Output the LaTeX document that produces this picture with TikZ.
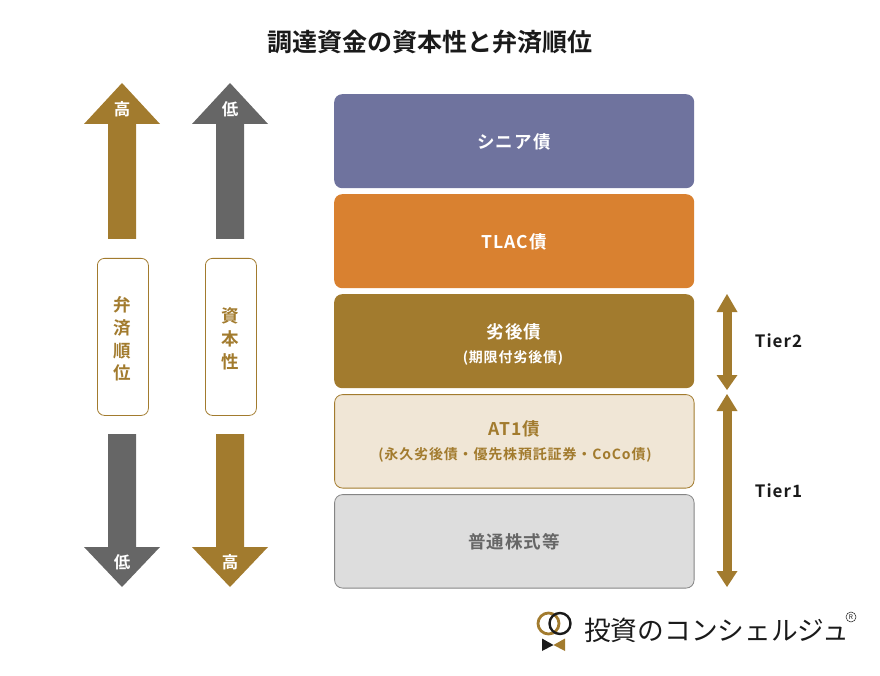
\documentclass[tikz,border=0pt]{standalone}
\usepackage{fontspec}
\setmainfont{Noto Sans CJK JP}[BoldFont={Noto Sans CJK JP Bold}]
\newfontfamily\spaced{Noto Sans CJK JP Bold}[LetterSpace=6]
\definecolor{gold}{HTML}{A27B2E}
\definecolor{slate}{HTML}{666666}
\definecolor{purp}{HTML}{6F739E}
\definecolor{oran}{HTML}{D98130}
\definecolor{cream}{HTML}{F0E6D6}
\definecolor{lgrey}{HTML}{DDDDDD}
\definecolor{ink}{HTML}{1A1A1A}
\tikzset{
  x=1pt,y=-1pt,
  tier/.style={minimum width=360pt,minimum height=94pt,rounded corners=8pt,inner sep=0pt,anchor=north west},
  tiermain/.style={inner sep=0pt,font=\fontsize{17.5}{22}\spaced},
  tiersub/.style={inner sep=0pt,font=\fontsize{14}{17}\spaced},
  side/.style={draw=gold,fill=white,line width=0.8pt,minimum width=51pt,minimum height=157pt,rounded corners=7pt,inner sep=0pt,anchor=north west},
  sidetext/.style={inner sep=0pt,align=center,text=gold,font=\fontsize{17.5}{22.7}\selectfont\bfseries},
  lab/.style={text=white,inner sep=0pt,font=\fontsize{16.5}{16}\selectfont\bfseries},
  tierlab/.style={text=ink,inner sep=0pt,font=\fontsize{17}{17}\spaced},
}
\newcommand{\bigup}[2]{\fill[#2] (#1,83) -- (#1+38,124) -- (#1+14,124) -- (#1+14,239) -- (#1-14,239) -- (#1-14,124) -- (#1-38,124) -- cycle;}
\newcommand{\bigdown}[2]{\fill[#2] (#1,587) -- (#1+38,547) -- (#1+14,547) -- (#1+14,434) -- (#1-14,434) -- (#1-14,547) -- (#1-38,547) -- cycle;}
\newcommand{\dbltip}[3]{\fill[gold] (#1,#2) -- (#1+10.5,#3) -- (#1-10.5,#3) -- cycle;}
\begin{document}
\begin{tikzpicture}
\useasboundingbox (0,0) rectangle (880,676);
\node[inner sep=0pt,text=ink,font=\fontsize{25}{28}\selectfont\bfseries] (title) at (430,42) {調達資金の資本性と弁済順位};

\bigup{122}{gold}
\bigup{230}{slate}
\bigdown{122}{slate}
\bigdown{230}{gold}
\node[lab] (a) at (122,109) {高};
\node[lab] (b) at (230,109) {低};
\node[lab] (c) at (122,562) {低};
\node[lab] (d) at (230,562) {高};
\node[side] (s1) at (97,258) {};
\node[sidetext] (s1t) at (122.5,339) {弁\\済\\順\\位};
\node[side] (s2) at (205,258) {};
\node[sidetext] (s2t) at (230.5,339) {資\\本\\性};

\node[tier,fill=purp] (t1) at (334,94) {};
\node[tiermain,text=white] (t1a) at (514,141.5) {シニア債};
\node[tier,fill=oran] (t2) at (334,194) {};
\node[tiermain,text=white] (t2a) at (514,242) {TLAC債};
\node[tier,fill=gold] (t3) at (334,294) {};
\node[tiermain,text=white] (t3a) at (514,332) {劣後債};
\node[tiersub,text=white] (t3b) at (513,358) {(期限付劣後債)};
\node[tier,fill=cream,draw=gold,line width=0.8pt,minimum width=359.5pt,minimum height=93.5pt] (t4) at (334.2,394.2) {};
\node[tiermain,text=gold] (t4a) at (514,428.5) {AT1債};
\node[tiersub,text=gold] (t4b) at (515,455) {(永久劣後債・優先株預託証券・CoCo債)};
\node[tier,fill=lgrey,draw=slate!80,line width=0.8pt,minimum width=359.5pt,minimum height=93.5pt] (t5) at (334.2,494.2) {};
\node[tiermain,text=slate] (t5a) at (514,541.5) {普通株式等};

\coordinate (u1) at (727,312);
\coordinate (v1) at (727,376);
\coordinate (u2) at (727,410);
\coordinate (v2) at (727,572);
\draw[gold,line width=9pt] (u1) -- (v1);
\draw[gold,line width=9pt] (u2) -- (v2);
\dbltip{727}{294}{312}
\dbltip{727}{390}{375}
\dbltip{727}{394}{411}
\dbltip{727}{587}{571}
\node[tierlab] (k1) at (778.5,341) {Tier2};
\node[tierlab] (k2) at (778.5,491) {Tier1};

\draw[gold,line width=2.8pt] (548.5,623.5) circle (10.5);
\draw[ink,line width=2.4pt] (560,623.5) circle (10.5);
\fill[ink] (542,638.5) -- (553.5,645) -- (542,651) -- cycle;
\fill[gold] (565,638.5) -- (553.5,645) -- (565,651) -- cycle;
\node[inner sep=0pt,text=ink,anchor=west,font=\fontsize{26.7}{30}\selectfont] (logo) at (584,630) {投資のコンシェルジュ};
\node[circle,draw=ink,line width=0.5pt,inner sep=0.4pt,minimum size=10pt,text=ink,font=\fontsize{6.5}{7}\selectfont] (reg) at (851,617) {R};
\end{tikzpicture}
\end{document}
